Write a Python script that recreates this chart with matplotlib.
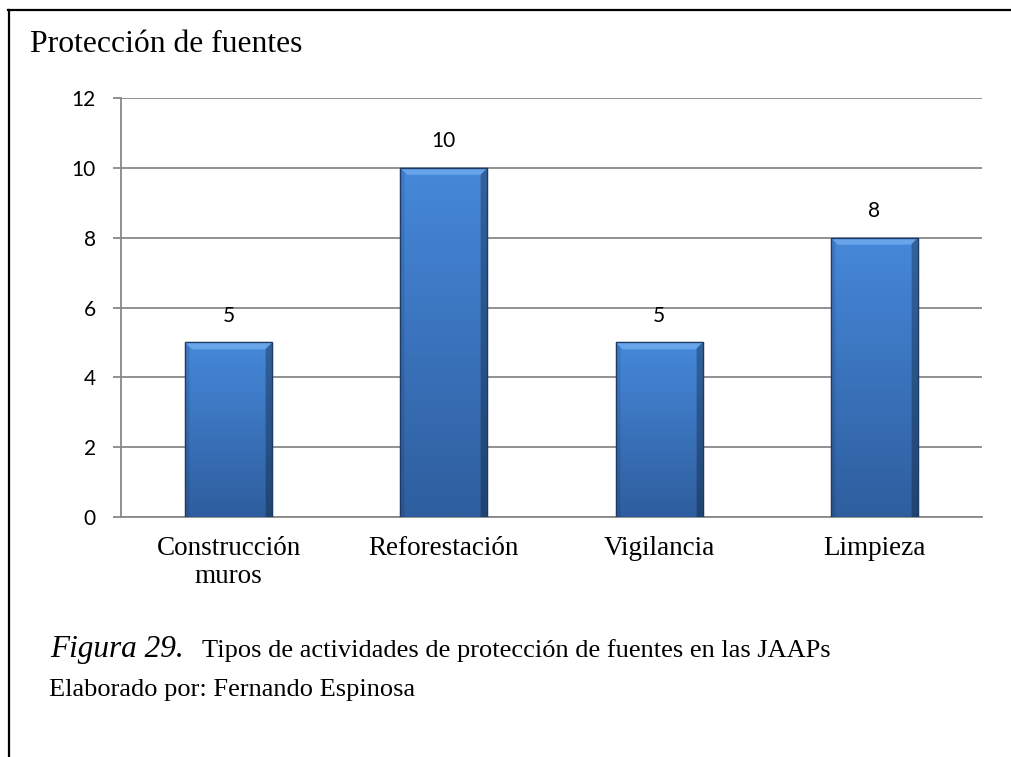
import numpy as np
import matplotlib
matplotlib.use("Agg")
import matplotlib.pyplot as plt
from matplotlib.lines import Line2D
from matplotlib.patches import Polygon
from matplotlib.colors import to_rgb

categories = ["Construcción\nmuros", "Reforestación", "Vigilancia", "Limpieza"]
values = [5, 10, 5, 8]
y_ticks = [0, 2, 4, 6, 8, 10, 12]
title = "Protección de fuentes"
caption_label = "Figura 29."
caption_text = "Tipos de actividades de protección de fuentes en las JAAPs"
credit = "Elaborado por: Fernando Espinosa"

W, H, DPI = 1011, 757, 100
fig = plt.figure(figsize=(W / DPI, H / DPI), dpi=DPI)
fig.patch.set_facecolor("white")

L, R, T, B = 121, 982, 98, 517
ax = fig.add_axes([L / W, 1 - B / H, (R - L) / W, (B - T) / H])

SERIF = ["Liberation Serif", "DejaVu Serif"]
SANS = ["Lato", "DejaVu Sans"]
GRID = "#888888"

x = np.arange(len(categories))
bw = 0.405
ax.set_xlim(-0.5, len(categories) - 0.5)
ax.set_ylim(0, 12)

bars = ax.bar(x, values, width=bw, color="#3a74c0", edgecolor="#1d3a66",
              linewidth=0.9, zorder=3)

# gradient fill inside each bar
ny, nx = 200, 60
top_c = np.array(to_rgb("#4688da"))
bot_c = np.array(to_rgb("#2e5e9e"))
t = np.linspace(0, 1, ny)[:, None, None]
grad = top_c * (1 - t) + bot_c * t
grad = np.repeat(grad, nx, axis=1)
xs = np.linspace(0, 1, nx)
shade = np.ones(nx)
shade[xs > 0.93] = 0.72
shade[xs < 0.04] = 0.9
grad = grad * shade[None, :, None]

ax_w_px = (R - L)
ax_h_px = (B - T)
dx = 7 / (ax_w_px / len(categories))
dy = 7 / (ax_h_px / 12)

for bar, v in zip(bars, values):
    x0 = bar.get_x()
    x1 = x0 + bar.get_width()
    im = ax.imshow(grad, extent=(x0, x1, 0, v), aspect="auto", zorder=3.5,
                   interpolation="bilinear")
    im.set_clip_path(bar)
    bevel = Polygon([(x0, v), (x1, v), (x1 - dx, v - dy), (x0 + dx, v - dy)],
                    closed=True, facecolor="#6aa6ea", edgecolor="none",
                    zorder=3.6, alpha=0.95)
    ax.add_patch(bevel)
    ax.add_patch(Polygon([(x0, v), (x1, v), (x1, 0), (x0, 0)], closed=True,
                         facecolor="none", edgecolor="#1d3a66", lw=0.9,
                         zorder=3.7))
    ax.annotate(str(v), (x0 + bar.get_width() / 2, v), xytext=(0, 19),
                textcoords="offset points", ha="center", va="center",
                fontsize=15, family=SANS, color="black")

ax.set_yticks(y_ticks)
ax.set_yticklabels([str(v) for v in y_ticks], family=SANS, fontsize=15)
ax.yaxis.grid(True, color=GRID, linewidth=1.3, zorder=0)
ax.set_axisbelow(True)
ax.tick_params(axis="y", length=6, width=1.3, color=GRID, pad=12)
ax.tick_params(axis="x", length=0, pad=14)
ax.set_xticks(x)
ax.set_xticklabels(categories, family=SERIF, fontsize=19.5, linespacing=1.15)
for s in ["top", "right"]:
    ax.spines[s].set_visible(False)
for s in ["left", "bottom"]:
    ax.spines[s].set_color(GRID)
    ax.spines[s].set_linewidth(1.3)

fig.text(30 / W, 1 - 52 / H, title, family=SERIF, fontsize=22.8,
         va="baseline", ha="left")
fig.text(50 / W, 1 - 657 / H, caption_label, family=SERIF, fontsize=22.5,
         style="italic", va="baseline", ha="left")
fig.text(202 / W, 1 - 657 / H, caption_text, family=SERIF, fontsize=19,
         va="baseline", ha="left")
fig.text(49 / W, 1 - 696 / H, credit, family=SERIF, fontsize=19,
         va="baseline", ha="left")

# frame lines (left and top)
fig.add_artist(Line2D([9 / W, 9 / W], [1 - 10 / H, 0], transform=fig.transFigure,
                      color="black", lw=1.6))
fig.add_artist(Line2D([8 / W, 1], [1 - 10 / H, 1 - 10 / H],
                      transform=fig.transFigure, color="black", lw=1.6))

fig.savefig("out.png", dpi=DPI)
